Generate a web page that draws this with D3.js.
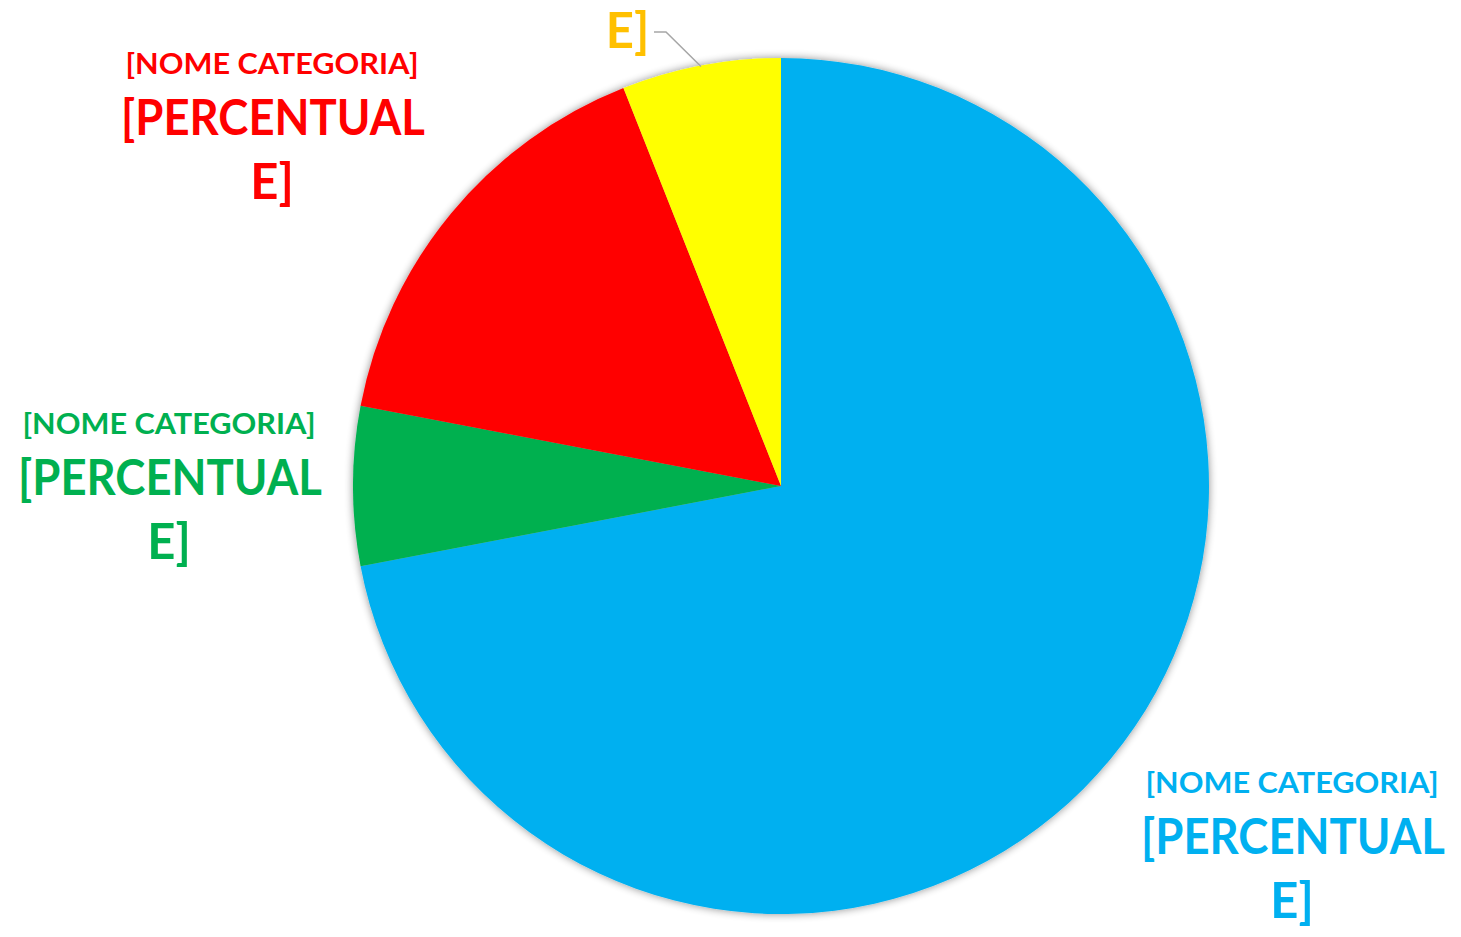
<!DOCTYPE html>
<html>
<head>
<meta charset="utf-8">
<script src="https://cdn.jsdelivr.net/npm/d3@7/dist/d3.min.js"></script>
<style>
  html, body { margin: 0; padding: 0; background: #ffffff; }
  svg { display: block; }
</style>
</head>
<body>
<svg id="chart" width="1461" height="937"></svg>
<script>
// Data
const categories = ["Azul", "Verde", "Vermelho", "Amarelo"];
const values = [72, 6, 16, 6];
const sliceColors = ["#00B0F0", "#00B050", "#FF0000", "#FFFF00"];
const labelColors = ["#00B0F0", "#00B050", "#FF0000", "#FFC000"];
const labelLine1 = ["[NOME CATEGORIA]", "[NOME CATEGORIA]", "[NOME CATEGORIA]", "[NOME CATEGORIA]"];
const labelLine2 = ["[PERCENTUAL", "[PERCENTUAL", "[PERCENTUAL", "[PERCENTUAL"];
const labelLine3 = ["E]", "E]", "E]", "E]"];

const W = 1461, H = 937;
const cx = 781, cy = 486, R = 428;

const svg = d3.select("#chart");
const defs = svg.append("defs");
const f = defs.append("filter").attr("id", "shadow")
  .attr("x", "-10%").attr("y", "-10%").attr("width", "120%").attr("height", "120%");
f.append("feGaussianBlur").attr("in", "SourceAlpha").attr("stdDeviation", 4.5).attr("result", "blur");
f.append("feOffset").attr("in", "blur").attr("dx", 0).attr("dy", 0).attr("result", "off");
f.append("feComponentTransfer").attr("in", "off").attr("result", "sh")
  .append("feFuncA").attr("type", "linear").attr("slope", 0.45);
const m = f.append("feMerge");
m.append("feMergeNode").attr("in", "sh");
m.append("feMergeNode").attr("in", "SourceGraphic");

const pie = d3.pie().sort(null).value(d => d)
  .startAngle(0).endAngle(2 * Math.PI);
const arcs = pie(values);
const arc = d3.arc().innerRadius(0).outerRadius(R);

const g = svg.append("g").attr("transform", `translate(${cx},${cy})`);
g.append("g").attr("filter", "url(#shadow)")
  .selectAll("path").data(arcs).join("path")
  .attr("d", arc)
  .attr("fill", (d, i) => sliceColors[i]);

// label anchor positions (center x, first-line baseline y)
const labelPos = [
  [1292, 793],
  [169, 434],
  [272, 74],
  [627.5, -77]
];

const font = "Lato, 'Open Sans', sans-serif";
labelPos.forEach((p, i) => {
  const t = svg.append("g").attr("fill", labelColors[i])
    .attr("font-family", font).attr("font-weight", "bold")
    .attr("text-anchor", "middle");
  t.append("text").attr("x", p[0]).attr("y", p[1])
    .attr("font-size", 29)
    .attr("textLength", 293).attr("lengthAdjust", "spacingAndGlyphs")
    .text(labelLine1[i]);
  t.append("text").attr("x", p[0] + 1).attr("y", p[1] + 61)
    .attr("font-size", 49)
    .attr("textLength", 304).attr("lengthAdjust", "spacingAndGlyphs")
    .text(labelLine2[i]);
  t.append("text").attr("x", p[0]).attr("y", p[1] + 125)
    .attr("font-size", 49)
    .text(labelLine3[i]);
});

// leader line for yellow slice, ending at the slice's outer mid-point
const yA = arcs[3];
const mid = (yA.startAngle + yA.endAngle) / 2;
const edge = [cx + (R - 1) * Math.sin(mid), cy - (R - 1) * Math.cos(mid)];
svg.append("polyline")
  .attr("points", `654,32 666,32 ${edge[0]},${edge[1]}`)
  .attr("fill", "none").attr("stroke", "#A6A6A6").attr("stroke-width", 1.5);
</script>
</body>
</html>
